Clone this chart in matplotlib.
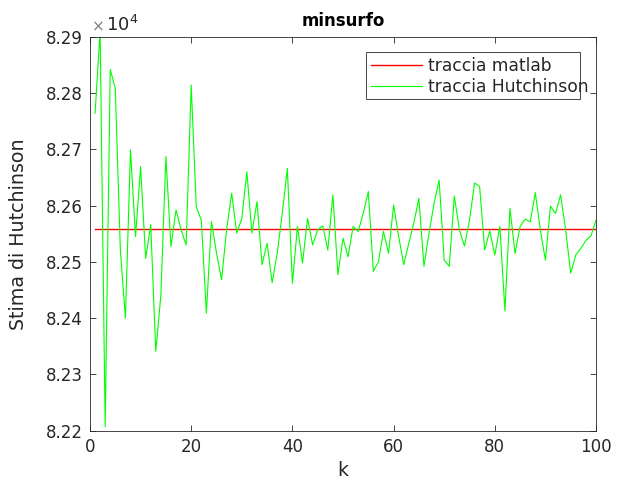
import matplotlib
matplotlib.use('Agg')
import matplotlib.pyplot as plt
from matplotlib.patches import Rectangle
import numpy as np

# data
k = np.arange(1, 101)
traccia_matlab = 82558.0
traccia_hutchinson = [
    82764, 82910, 82207, 82842, 82808, 82520, 82400, 82699, 82545, 82669,
    82506, 82566, 82341, 82440, 82687, 82527, 82592, 82557, 82530, 82814,
    82598, 82574, 82409, 82572, 82516, 82468, 82557, 82622, 82551, 82577,
    82660, 82551, 82607, 82495, 82533, 82463, 82515, 82586, 82666, 82462,
    82563, 82498, 82577, 82530, 82557, 82564, 82521, 82619, 82477, 82542,
    82509, 82563, 82554, 82586, 82625, 82483, 82500, 82554, 82515, 82601,
    82545, 82495, 82533, 82569, 82613, 82492, 82551, 82604, 82645, 82503,
    82492, 82617, 82557, 82528, 82574, 82640, 82634, 82521, 82555, 82512,
    82563, 82413, 82595, 82515, 82563, 82576, 82571, 82623, 82557, 82503,
    82599, 82586, 82619, 82557, 82480, 82512, 82524, 82538, 82546, 82574,
]
yticks = np.arange(82200, 82901, 100)

W, H = 621, 487
ax_col = '#262626'
plt.rcParams['font.family'] = ['DejaVu Sans']

fig = plt.figure(figsize=(W / 100, H / 100), dpi=100)
ax = fig.add_axes([90 / W, 1 - 430.7 / H, 506 / W, 394 / H])

ax.plot([k[0], k[-1]], [traccia_matlab, traccia_matlab], color='red', lw=1.0, label='traccia matlab')
ax.plot(k, traccia_hutchinson, color='#00ff00', lw=0.8, label='traccia Hutchinson')

ax.set_xlim(0, 100)
ax.set_ylim(82200, 82900)
ax.set_xticks(np.arange(0, 101, 20))
ax.set_yticks(yticks)
ax.set_yticklabels(['%.2f' % (v / 1e4) for v in yticks])
ax.tick_params(direction='in', top=True, right=True, labelsize=12, colors=ax_col,
               length=4, width=0.6, pad=5)
for s in ax.spines.values():
    s.set_color(ax_col)
    s.set_linewidth(0.6)

# exponent label like matlab
ax.text(0.003, 1.006, u'\u00d7', transform=ax.transAxes, fontsize=11,
        color='#808080', ha='left', va='bottom')
ax.text(0.032, 1.004, r'$\mathregular{10^4}$', transform=ax.transAxes,
        fontsize=13, color=ax_col, ha='left', va='bottom')

ax.set_title('minsurfo', fontsize=12, fontweight='bold', pad=8)
ax.set_xlabel('k', fontsize=13.5, color=ax_col)
ax.set_ylabel('Stima di Hutchinson', fontsize=13.7, color=ax_col, labelpad=13)

# legend (box drawn separately, text spills over like the original)
leg = ax.legend(loc='upper left', bbox_to_anchor=(371 / W, 1 - 57 / H),
                bbox_transform=fig.transFigure, fontsize=12.3, frameon=False,
                handlelength=3.0, handletextpad=0.35, labelspacing=0.2,
                borderpad=0, borderaxespad=0)
for t in leg.get_texts():
    t.set_color(ax_col)
fig.add_artist(Rectangle((366 / W, 1 - 99 / H), 214 / W, 47 / H,
                         transform=fig.transFigure, fill=False,
                         edgecolor=ax_col, lw=0.6, zorder=5))

fig.savefig('out.png', dpi=100)
